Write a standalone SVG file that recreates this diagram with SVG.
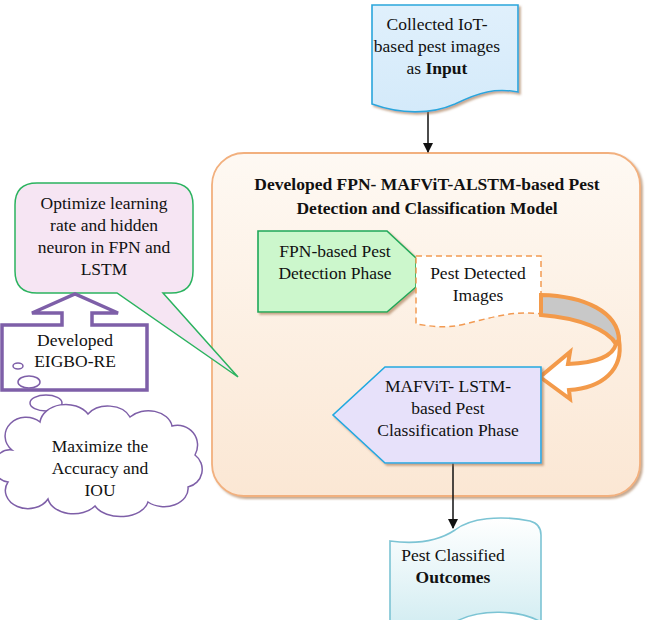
<svg xmlns="http://www.w3.org/2000/svg" width="647" height="620" viewBox="0 0 647 620">
<defs>
<linearGradient id="gMain" x1="0" y1="0" x2="0" y2="1"><stop offset="0" stop-color="#fef9f3"/><stop offset="1" stop-color="#fbe7d4"/></linearGradient>
<linearGradient id="gTop" x1="0" y1="0" x2="0" y2="1"><stop offset="0" stop-color="#e0f0fc"/><stop offset="1" stop-color="#d4eafa"/></linearGradient>
<linearGradient id="gBot" x1="0" y1="0" x2="0" y2="1"><stop offset="0" stop-color="#ffffff"/><stop offset="1" stop-color="#d3edf2"/></linearGradient>
<filter id="sh" x="-10%" y="-10%" width="130%" height="130%"><feDropShadow dx="2" dy="2" stdDeviation="1" flood-color="#a0704a" flood-opacity="0.6"/></filter>
<marker id="ah" markerWidth="10" markerHeight="10" refX="9" refY="5" orient="auto" markerUnits="userSpaceOnUse"><path d="M0,0 L10,5 L0,10 Z" fill="#111"/></marker>
</defs>
<style>
text{font-family:'Liberation Serif','Times New Roman','DejaVu Serif',serif;font-size:17.5px;fill:#111;text-anchor:middle}
.b{font-weight:bold}
</style>
<rect width="647" height="620" fill="#ffffff"/>

<g id="main-container">
<rect x="212" y="153" width="428" height="343" rx="32" fill="url(#gMain)" stroke="#f2b07e" stroke-width="1.8" filter="url(#sh)"/>
<text class="b" x="427" y="190" font-family="Liberation Serif, serif">Developed FPN- MAFViT-ALSTM-based Pest</text>
<text class="b" x="427" y="214" font-family="Liberation Serif, serif">Detection and Classification Model</text>
</g>

<g id="connectors" stroke="#111" stroke-width="1.5" fill="none">
<line x1="428" y1="112" x2="428" y2="152" marker-end="url(#ah)"/>
<line x1="453" y1="463" x2="453" y2="528" marker-end="url(#ah)"/>
</g>

<g id="input-doc" font-family="Liberation Serif, serif">
<path d="M372,5 H518 V92 C495,88 480,92 455,104 C430,115 400,114 372,104 Z" fill="url(#gTop)" stroke="#2aa6dc" stroke-width="1.6" filter="url(#sh)"/>
<text x="437" y="30">Collected IoT-</text>
<text x="437" y="52">based pest images</text>
<text x="437" y="74">as <tspan class="b">Input</tspan></text>
</g>

<g id="fpn-detection" font-family="Liberation Serif, serif">
<path d="M258,231 H387 L416,258 V287 L387,312 H258 Z" fill="#ccf7cc" stroke="#1fa85a" stroke-width="1.6" filter="url(#sh)"/>
<text x="335" y="257">FPN-based Pest</text>
<text x="335" y="279">Detection Phase</text>
</g>

<g id="pest-detected" font-family="Liberation Serif, serif">
<path d="M416,256 H541 V314 C515,310 490,318 465,324 C445,329 430,326 416,324 Z" fill="#ffffff" stroke="#f29a52" stroke-width="1.5" stroke-dasharray="6,4"/>
<text x="478" y="279">Pest Detected</text>
<text x="478" y="301">Images</text>
</g>

<g id="curved-arrow" stroke="#f39a4a" stroke-width="4" stroke-linejoin="miter">
<path d="M541,295 C585,296 618,312 619,340 L616,344 C608,330 580,318 541,315 Z" fill="#c8c8c8"/>
<path d="M616,344 C613,356 596,363 568,364 L570,352 L540,377 L570,399 L569,390 C602,388 624,370 619,340 Z" fill="#ffffff"/>
</g>

<g id="mafvit-classification" font-family="Liberation Serif, serif">
<path d="M385,367 H541 V463 H385 L333,415 Z" fill="#e7e1fa" stroke="#22a9e0" stroke-width="1.6" filter="url(#sh)"/>
<text x="448" y="392">MAFViT- LSTM-</text>
<text x="448" y="414">based Pest</text>
<text x="448" y="436">Classification Phase</text>
</g>

<g id="output-doc" font-family="Liberation Serif, serif">
<path d="M390,541 C420,545 440,540 455,530 C470,518 500,515 530,521 Q541,524 541,535 V622 C520,610 480,608 455,622 L390,625 Z" fill="url(#gBot)" stroke="#7cc4d4" stroke-width="1.6"/>
<text x="453" y="561">Pest Classified</text>
<text class="b" x="453" y="583">Outcomes</text>
</g>

<g id="optimize-bubble" font-family="Liberation Serif, serif">
<path d="M37,183 H171 Q193,183 193,205 V271 Q193,293 171,293 H163 L238,377 L117,293 H37 Q15,293 15,271 V205 Q15,183 37,183 Z" fill="#f6e5f3" stroke="#2bb35f" stroke-width="1.5"/>
<text x="104" y="209">Optimize learning</text>
<text x="104" y="231">rate and hidden</text>
<text x="104" y="253">neuron in FPN and</text>
<text x="104" y="275">LSTM</text>
</g>

<g id="eigbo-callout" font-family="Liberation Serif, serif">
<path d="M2,325 H62 V313 H32 L75,294 L118,313 H92 V325 H147 V390 H2 Z" fill="#ffffff" stroke="#7e5fa8" stroke-width="3.5"/>
<text x="75" y="346">Developed</text>
<text x="75" y="367">EIGBO-RE</text>
<ellipse cx="18" cy="366" rx="5" ry="3" fill="#ffffff" stroke="#7e5fa8" stroke-width="1.5"/>
<ellipse cx="29" cy="382" rx="11" ry="6" fill="#ffffff" stroke="#7e5fa8" stroke-width="1.5"/>
<ellipse cx="46" cy="403" rx="16" ry="8" fill="#ffffff" stroke="#7e5fa8" stroke-width="1.5"/>
</g>

<g id="maximize-cloud" font-family="Liberation Serif, serif">
<path d="M12,450 A20,18 0 0 1 40,422 A26,20 0 0 1 88,414 A24,18 0 0 1 130,417 A24,18 0 0 1 172,426 A20,20 0 0 1 195,455 A18,18 0 0 1 188,487 A24,18 0 0 1 148,502 A28,18 0 0 1 95,506 A26,18 0 0 1 48,499 A20,16 0 0 1 8,482 A16,16 0 0 1 12,450 Z" fill="#ffffff" stroke="#7e5fa8" stroke-width="1.5"/>
<text x="100" y="452">Maximize the</text>
<text x="100" y="474">Accuracy and</text>
<text x="100" y="496">IOU</text>
</g>
</svg>
